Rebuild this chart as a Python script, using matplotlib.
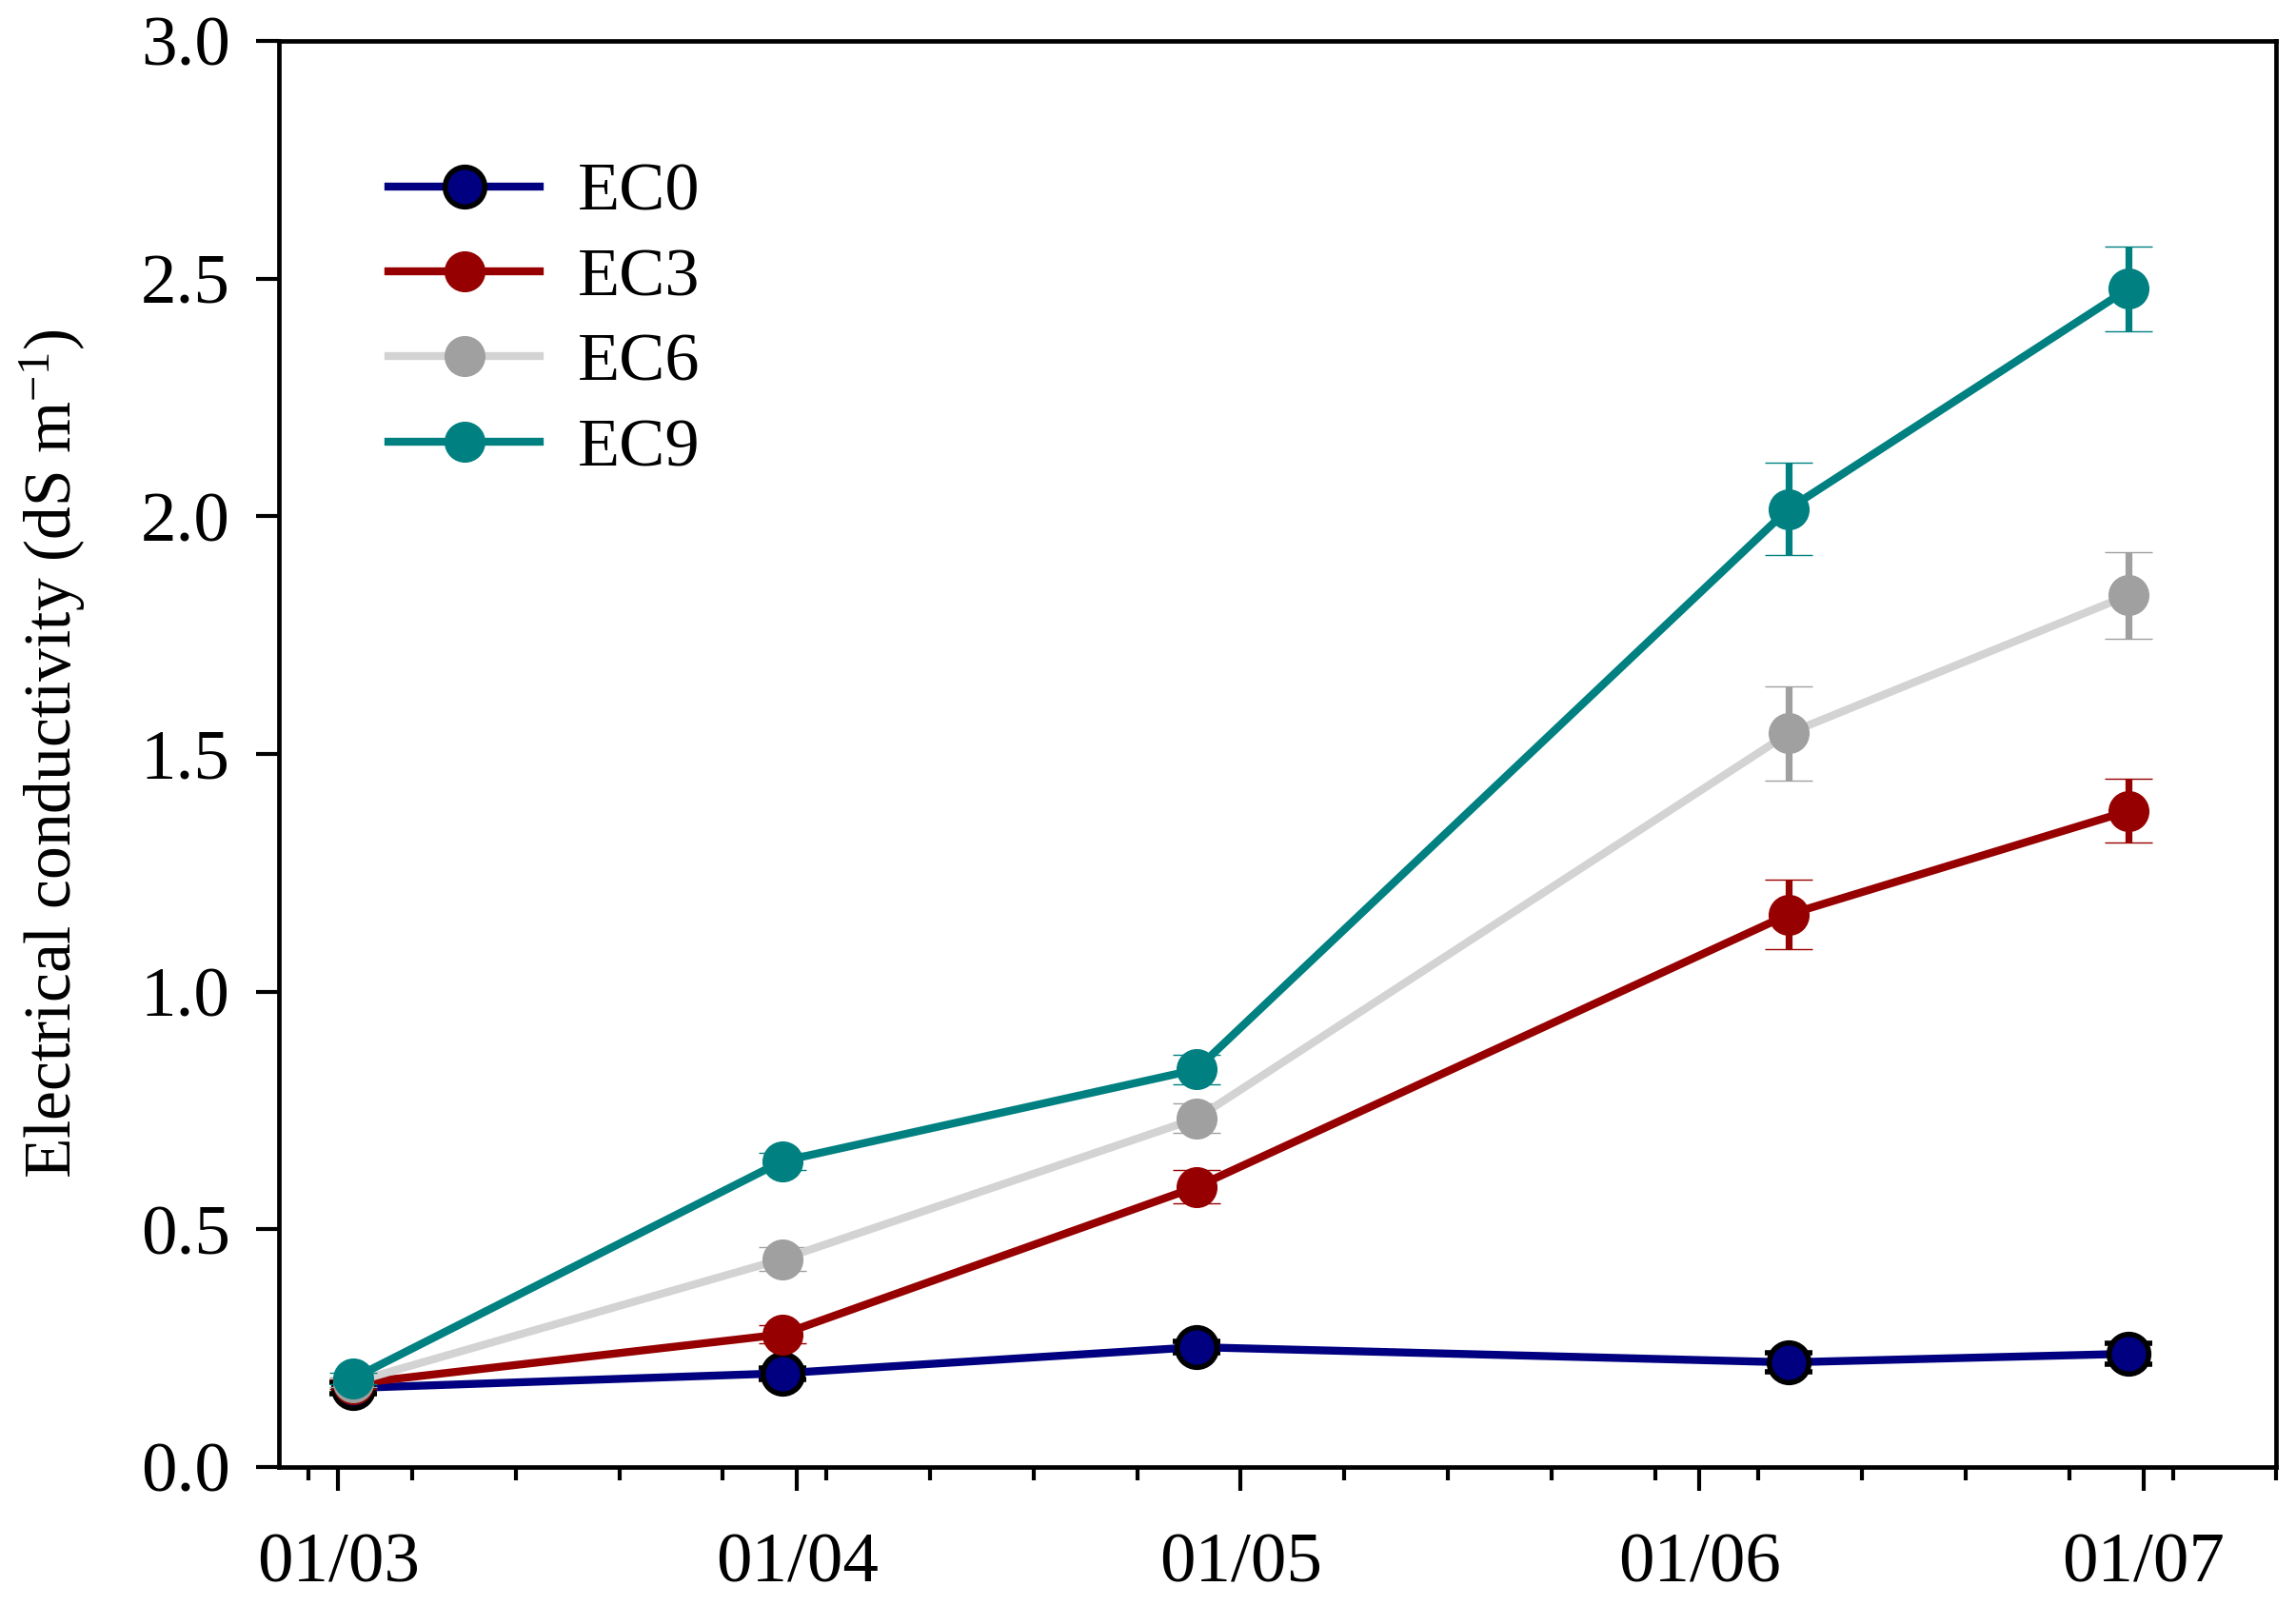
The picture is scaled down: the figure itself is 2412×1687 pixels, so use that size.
import matplotlib
matplotlib.use('Agg')
import matplotlib.pyplot as plt
import matplotlib.dates as mdates
import pandas as pd

plt.rcParams['font.family'] = ['Liberation Serif', 'DejaVu Serif']
plt.rcParams['mathtext.fontset'] = 'custom'
plt.rcParams['mathtext.rm'] = 'Liberation Serif'
plt.rcParams['mathtext.it'] = 'Liberation Serif:italic'
plt.rcParams['mathtext.default'] = 'regular'

# sampling dates and mean EC (dS/m) with error bars
dates = pd.to_datetime(['2019-03-02', '2019-03-31', '2019-04-28', '2019-06-07', '2019-06-30'])

ec0 = [0.166, 0.197, 0.252, 0.220, 0.238]
ec0_err = [0.012, 0.012, 0.012, 0.020, 0.022]
ec3 = [0.175, 0.279, 0.589, 1.162, 1.380]
ec3_err = [0.010, 0.019, 0.035, 0.073, 0.067]
ec6 = [0.178, 0.437, 0.733, 1.543, 1.834]
ec6_err = [0.010, 0.025, 0.031, 0.100, 0.091]
ec9 = [0.186, 0.643, 0.836, 2.015, 2.479]
ec9_err = [0.012, 0.018, 0.032, 0.097, 0.089]

labels = ['EC0', 'EC3', 'EC6', 'EC9']
line_cols = ['#000080', '#960000', '#d3d3d3', '#008080']
mark_cols = ['#000080', '#960000', '#a0a0a0', '#008080']
edge_cols = ['black', '#960000', '#a0a0a0', '#008080']

fig = plt.figure(figsize=(12.06, 8.435), dpi=200)
ax = fig.add_axes([0.1215, 0.0866, 0.870, 0.8879])

series = [(ec0, ec0_err), (ec3, ec3_err), (ec6, ec6_err), (ec9, ec9_err)]
lines = []
for i, (vals, errs) in enumerate(series):
    cont = ax.errorbar(dates, vals, yerr=errs, fmt='-o', color=line_cols[i], lw=3,
                       ms=15, mfc=mark_cols[i], mec=edge_cols[i],
                       mew=2.0 if i == 0 else 0.5,
                       ecolor=edge_cols[i], elinewidth=2.6, capsize=9, capthick=2.6,
                       label=labels[i], zorder=3 + i)
    lines.append(cont[0])

ax.set_ylim(0, 3.0)
ax.set_yticks([0, 0.5, 1.0, 1.5, 2.0, 2.5, 3.0])
ax.set_yticklabels(['0.0', '0.5', '1.0', '1.5', '2.0', '2.5', '3.0'])
ax.set_xlim(pd.Timestamp('2019-02-25'), pd.Timestamp('2019-07-10'))
ax.xaxis.set_major_locator(mdates.MonthLocator())
ax.xaxis.set_major_formatter(mdates.DateFormatter('%d/%m'))
ax.xaxis.set_minor_locator(mdates.WeekdayLocator(byweekday=mdates.WE))

for s in ax.spines.values():
    s.set_linewidth(1.7)
ax.tick_params(axis='both', which='major', direction='out', width=1.5, labelsize=27)
ax.tick_params(axis='x', which='major', length=9, pad=16)
ax.tick_params(axis='x', which='minor', length=5, width=1.5)
ax.tick_params(axis='y', which='major', length=8.5, pad=10)

ax.set_ylabel('Electrical conductivity (dS m$^{-1}$)', fontsize=25)
ax.yaxis.set_label_coords(-0.096, 0.5)

# legend shows only line + marker, no error bars
leg = ax.legend(lines, labels, loc='upper left', bbox_to_anchor=(0.055, 0.915), frameon=False,
                fontsize=26, handlelength=2.2, handletextpad=0.55,
                labelspacing=0.33, borderpad=0, borderaxespad=0)

fig.savefig('out.png', dpi=200)
